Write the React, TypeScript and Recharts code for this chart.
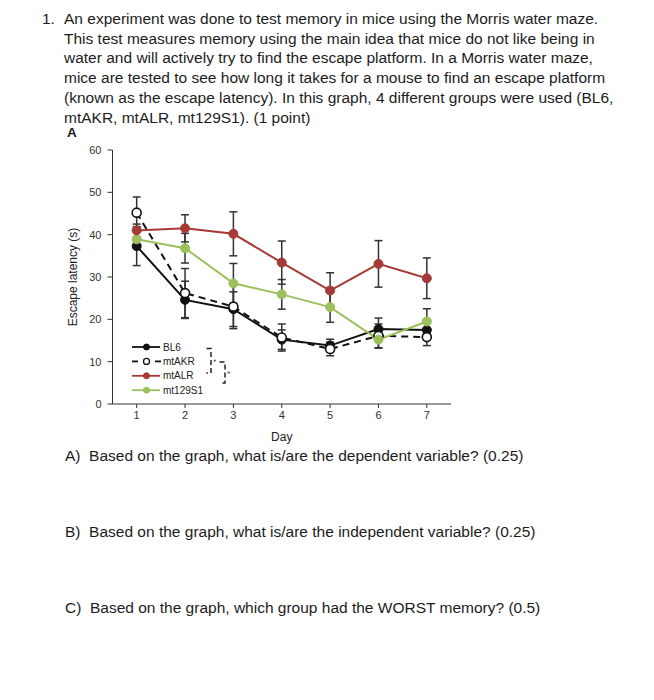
import React from "react";
import { LineChart, Line, XAxis, YAxis, ErrorBar, Legend } from "recharts";

// values (Morris water maze, escape latency)
const days = [1, 2, 3, 4, 5, 6, 7];
const bl6 = [37.3, 24.6, 22.4, 15.2, 13.8, 17.7, 17.5];
const bl6Err = [4.6, 4.4, 4.1, 2.3, 1.5, 2.6, 2.4];
const mtAKR = [45.2, 26.2, 23.0, 15.7, 13.0, 16.1, 15.8];
const mtAKRErr = [3.7, 5.8, 5.2, 3.2, 1.6, 2.8, 2.0];
const mtALR = [41.0, 41.5, 40.2, 33.4, 26.8, 33.1, 29.7];
const mtALRErr = [1.5, 3.2, 5.2, 5.1, 4.2, 5.5, 4.8];
const mt129S1 = [38.9, 36.8, 28.5, 25.9, 22.9, 15.2, 19.5];
const mt129S1Err = [2.0, 3.5, 4.7, 3.5, 3.6, 2.0, 3.0];
const yTicks = [0, 10, 20, 30, 40, 50, 60];

const data = days.map((d, i) => ({
  day: d,
  bl6: bl6[i],
  bl6Err: bl6Err[i],
  mtAKR: mtAKR[i],
  mtAKRErr: mtAKRErr[i],
  mtALR: mtALR[i],
  mtALRErr: mtALRErr[i],
  mt129S1: mt129S1[i],
  mt129S1Err: mt129S1Err[i],
}));

const series = [
  { key: "bl6", name: "BL6", color: "#111111", dashed: false, open: false },
  { key: "mtAKR", name: "mtAKR", color: "#111111", dashed: true, open: true },
  { key: "mt129S1", name: "mt129S1", color: "#9cc05c", dashed: false, open: false },
  { key: "mtALR", name: "mtALR", color: "#a63a36", dashed: false, open: false },
];
const legendOrder = ["bl6", "mtAKR", "mtALR", "mt129S1"];

const FONT = "'Liberation Sans', Arial, Helvetica, sans-serif";

const LegendBox = () => {
  const rowH = 14.4;
  return (
    <svg width={112} height={58} style={{ overflow: "visible" }}>
      {legendOrder.map((k, i) => {
        const s = series.find((x) => x.key === k)!;
        const y = 7 + i * rowH;
        return (
          <g key={k}>
            {s.dashed ? (
              <>
                <line x1={4} x2={10} y1={y} y2={y} stroke={s.color} strokeWidth={1.8} />
                <line x1={27} x2={33} y1={y} y2={y} stroke={s.color} strokeWidth={1.8} />
              </>
            ) : (
              <line x1={4} x2={32} y1={y} y2={y} stroke={s.color} strokeWidth={1.8} />
            )}
            <circle cx={18.5} cy={y} r={3} fill={s.open ? "#fff" : s.color} stroke={s.color} strokeWidth={s.open ? 1.3 : 1} />
            <text x={35} y={y + 3.5} fontSize={10} fill="#222" fontFamily={FONT}>
              {s.name}
            </text>
          </g>
        );
      })}
      {/* significance brackets */}
      <path d="M78.5 8.5 H83 V33 H78.5" fill="none" stroke="#222" strokeWidth={1.5} strokeDasharray="5 3" />
      <text x={84} y={24} fontSize={8} fill="#222" fontFamily={FONT} transform="rotate(90 86 21)">*</text>
      <path d="M91.5 22 H97 V43 H91.5" fill="none" stroke="#222" strokeWidth={1.5} strokeDasharray="5 3" />
      <text x={98} y={36} fontSize={8} fill="#222" fontFamily={FONT} transform="rotate(90 100 33)">*</text>
    </svg>
  );
};

const lines = [
  "An experiment was done to test memory in mice using the Morris water maze.",
  "This test measures memory using the main idea that mice do not like being in",
  "water and will actively try to find the escape platform. In a Morris water maze,",
  "mice are tested to see how long it takes for a mouse to find an escape platform",
  "(known as the escape latency). In this graph, 4 different groups were used (BL6,",
  "mtAKR, mtALR, mt129S1). (1 point)",
];

const questions = [
  { top: 446, text: "A)\u00a0\u00a0Based on the graph, what is/are the dependent variable? (0.25)" },
  { top: 522, text: "B)\u00a0\u00a0Based on the graph, what is/are the independent variable? (0.25)" },
  { top: 598, text: "C)\u00a0\u00a0Based on the graph, which group had the WORST memory? (0.5)" },
];

export default function App() {
  return (
    <div style={{ position: "absolute", left: 0, top: 0, width: 654, height: 700, background: "#fff", fontFamily: FONT, color: "#1c1c1c" }}>
      <div style={{ position: "absolute", left: 42, top: 9, fontSize: 15.5, lineHeight: "19.7px" }}>1.</div>
      <div style={{ position: "absolute", left: 64, top: 9, fontSize: 15.5, lineHeight: "19.7px", whiteSpace: "nowrap" }}>
        {lines.map((l, i) => (
          <div key={i}>{l}</div>
        ))}
      </div>
      <div style={{ position: "absolute", left: 67, top: 128, fontSize: 13.5, fontWeight: "bold", lineHeight: "10px" }}>A</div>

      <div style={{ position: "absolute", left: 40, top: 140 }}>
        <LineChart width={440} height={310} data={data} margin={{ top: 10, right: 29, bottom: 6, left: 20 }}>
          <XAxis
            dataKey="day"
            type="number"
            domain={[0.5, 7.5]}
            ticks={days}
            height={40}
            tickSize={4}
            tickMargin={3}
            stroke="#333"
            tick={{ fontSize: 11, fill: "#333", fontFamily: FONT }}
            label={{ value: "Day", position: "insideBottom", offset: 3, fontSize: 12, fill: "#222", fontFamily: FONT }}
          />
          <YAxis
            type="number"
            domain={[0, 60]}
            ticks={yTicks}
            width={52.5}
            tickSize={5}
            tickMargin={6}
            stroke="#333"
            tick={{ fontSize: 11, fill: "#333", fontFamily: FONT }}
            label={{
              content: (p: any) => {
                const vb = p.viewBox;
                const cx = vb.x + 13;
                const cy = vb.y + vb.height / 2;
                return (
                  <text x={cx} y={cy} transform={`rotate(-90 ${cx} ${cy})`} textAnchor="middle" dominantBaseline="central" fontSize={12} fill="#222" fontFamily={FONT}>
                    Escape latency (s)
                  </text>
                );
              },
            }}
          />
          <Legend
            layout="vertical"
            align="center"
            verticalAlign="middle"
            content={() => <LegendBox />}
            wrapperStyle={{ left: 88, top: 200, width: 112, height: 58 }}
          />
          {series.map((s) => (
            <Line
              key={s.key}
              dataKey={s.key}
              name={s.name}
              type="linear"
              stroke={s.color}
              strokeWidth={2}
              strokeDasharray={s.dashed ? "7 5" : undefined}
              dot={{ r: 4.5, fill: s.open ? "#fff" : s.color, stroke: s.open ? "#111" : s.color, strokeWidth: s.open ? 1.6 : 1, strokeDasharray: "" }}
              activeDot={false}
              isAnimationActive={false}
            >
              <ErrorBar dataKey={`${s.key}Err`} direction="y" width={4} stroke="#333" strokeWidth={1.5} />
            </Line>
          ))}
        </LineChart>
      </div>

      {questions.map((q, i) => (
        <div key={i} style={{ position: "absolute", left: 65, top: q.top, fontSize: 15.5, lineHeight: "19.7px", whiteSpace: "nowrap" }}>
          {q.text}
        </div>
      ))}
    </div>
  );
}
